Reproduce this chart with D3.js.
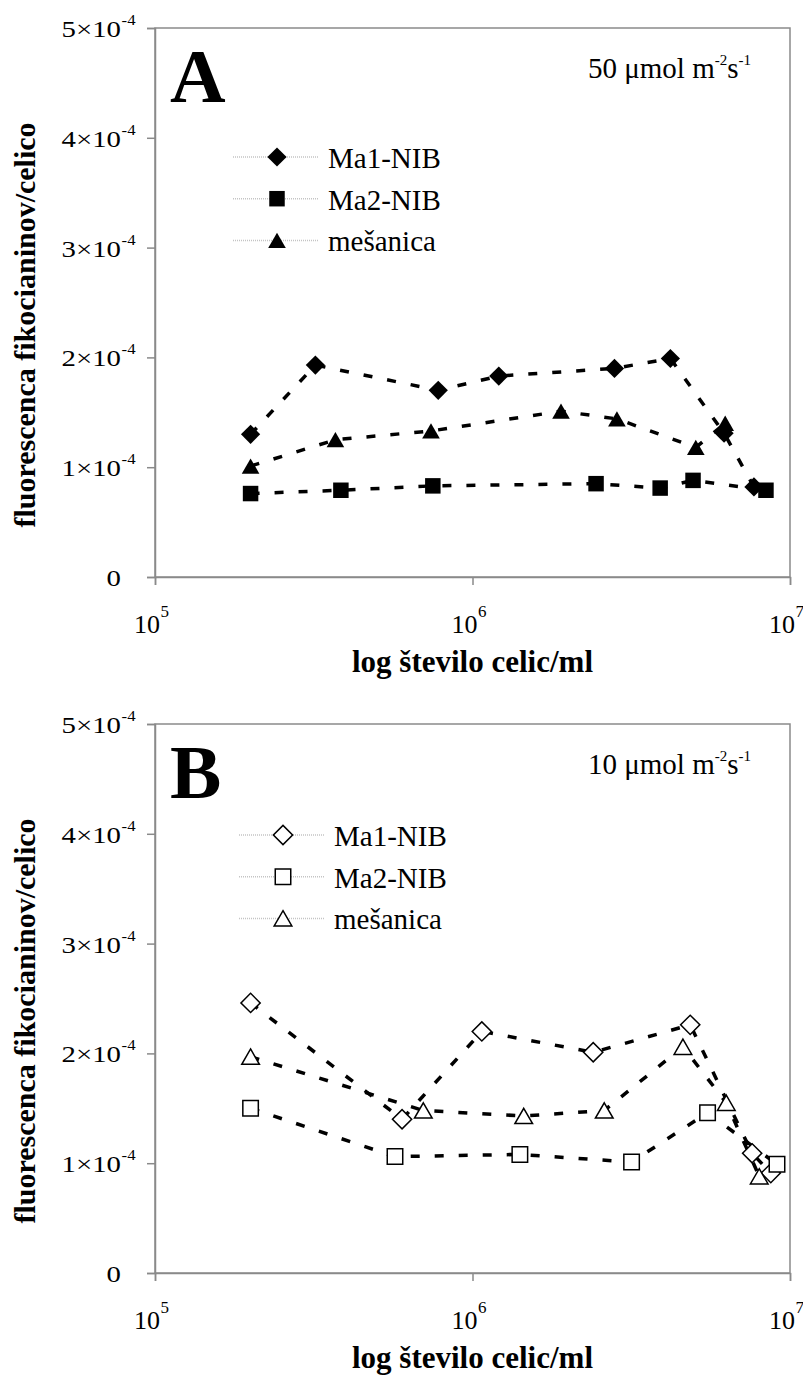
<!DOCTYPE html>
<html>
<head>
<meta charset="utf-8">
<script src="https://cdn.jsdelivr.net/npm/d3@7"></script>
<style>
  body { margin: 0; background: #fff; }
  svg { display: block; }
  text { font-family: "Liberation Serif", "Times New Roman", serif; fill: #000; }
</style>
</head>
<body>
<svg id="chart" width="803" height="1378"></svg>
<script>
const seriesNames = ['Ma1-NIB', 'Ma2-NIB', 'mešanica'];
const panelLetters = ['A', 'B'];
const lightLevels = ['50', '10'];

const xTicks = [1e5, 1e6, 1e7];
const xTickExp = ['5', '6', '7'];
const yTicks = [0, 1e-4, 2e-4, 3e-4, 4e-4, 5e-4];
const yTickMant = ['0', '1', '2', '3', '4', '5'];

// A: 50 umol m-2 s-1 (filled markers)
const ma1A_x = [2.0e5, 3.2e5, 7.8e5, 1.21e6, 2.8e6, 4.2e6, 6.2e6, 7.7e6];
const ma1A_y = [1.30e-4, 1.93e-4, 1.70e-4, 1.83e-4, 1.90e-4, 1.99e-4, 1.31e-4, 0.82e-4];
const ma2A_x = [2.0e5, 3.85e5, 7.5e5, 2.45e6, 3.9e6, 4.95e6, 8.4e6];
const ma2A_y = [0.76e-4, 0.79e-4, 0.83e-4, 0.85e-4, 0.81e-4, 0.88e-4, 0.79e-4];
const mesA_x = [2.0e5, 3.7e5, 7.4e5, 1.9e6, 2.85e6, 5.05e6, 6.25e6];
const mesA_y = [1.01e-4, 1.25e-4, 1.33e-4, 1.51e-4, 1.44e-4, 1.18e-4, 1.40e-4];

// B: 10 umol m-2 s-1 (open markers)
const ma1B_x = [2.0e5, 6.0e5, 1.07e6, 2.4e6, 4.85e6, 7.6e6, 8.7e6];
const ma1B_y = [2.46e-4, 1.40e-4, 2.20e-4, 2.01e-4, 2.26e-4, 1.09e-4, 0.91e-4];
const ma2B_x = [2.0e5, 5.7e5, 1.41e6, 3.17e6, 5.5e6, 9.1e6];
const ma2B_y = [1.50e-4, 1.06e-4, 1.08e-4, 1.01e-4, 1.46e-4, 0.99e-4];
const mesB_x = [2.0e5, 7.0e5, 1.45e6, 2.6e6, 4.6e6, 6.3e6, 8.0e6];
const mesB_y = [1.97e-4, 1.48e-4, 1.43e-4, 1.48e-4, 2.06e-4, 1.55e-4, 0.88e-4];

const panelData = [
  [[ma1A_x, ma1A_y], [ma2A_x, ma2A_y], [mesA_x, mesA_y]],
  [[ma1B_x, ma1B_y], [ma2B_x, ma2B_y], [mesB_x, mesB_y]]
];

const left = 155, right = 790,
      plotH = 549,
      panelTops = [28, 724],
      gray = '#8a8a8a';

const svg = d3.select('#chart');

const x = d3.scaleLog().domain([1e5, 1e7]).range([left, right]);

// marker shapes: diamond, square, triangle
const shapes = [
  {path: d3.symbol().type(d3.symbolSquare).size(185)(), rot: 45, dy: 0},
  {path: d3.symbol().type(d3.symbolSquare).size(240)(), rot: 0, dy: 0},
  {path: d3.symbol().type(d3.symbolTriangle).size(135)(), rot: 0, dy: 2.5}
];

panelTops.forEach((top, p) => {
  const bottom = top + plotH;
  const y = d3.scaleLinear().domain([0, 5e-4]).range([bottom, top]);
  const filled = p === 0;
  const g = svg.append('g');

  // frame
  g.append('rect')
   .attr('x', left).attr('y', top)
   .attr('width', right - left).attr('height', plotH)
   .attr('fill', 'none')
   .attr('stroke', gray)
   .attr('stroke-width', 1.5);

  const yAxis = g.append('g')
    .attr('transform', `translate(${left},0)`)
    .call(d3.axisLeft(y).tickValues(yTicks).tickSize(8).tickFormat(''));
  yAxis.selectAll('path, line').attr('stroke', gray).attr('stroke-width', 1.5);

  const xAxis = g.append('g')
    .attr('transform', `translate(0,${bottom})`)
    .call(d3.axisBottom(x).tickValues(xTicks).tickSize(8).tickFormat(''));
  xAxis.selectAll('path, line').attr('stroke', gray).attr('stroke-width', 1.5);

  // y tick labels, a little stretched like the original
  yTicks.forEach((v, i) => {
    const lab = g.append('g')
      .attr('transform', `translate(121,${y(v)}) scale(1.2,1)`);
    if (v === 0) {
      lab.append('text').attr('y', 9).attr('text-anchor', 'end')
         .attr('font-size', 24).text('0');
    } else {
      lab.append('text').attr('y', 9).attr('text-anchor', 'end')
         .attr('font-size', 24).text(yTickMant[i] + '×10');
      lab.append('text').attr('y', -3).attr('x', 0.5)
         .attr('font-size', 14).text('-4');
    }
  });

  // x tick labels
  xTicks.forEach((v, i) => {
    g.append('text')
     .attr('x', x(v) + 5).attr('y', bottom + 56)
     .attr('text-anchor', 'end')
     .attr('font-size', 26)
     .text('10');
    g.append('text')
     .attr('x', x(v) + 5.5).attr('y', bottom + 40)
     .attr('font-size', 17)
     .text(xTickExp[i]);
  });

  // axis titles
  g.append('text')
   .attr('x', (left + right) / 2).attr('y', bottom + 95)
   .attr('text-anchor', 'middle')
   .attr('font-size', 31).attr('font-weight', 'bold')
   .text('log število celic/ml');

  g.append('text')
   .attr('transform', `translate(35,${top + 297}) rotate(-90)`)
   .attr('text-anchor', 'middle')
   .attr('font-size', 30).attr('font-weight', 'bold')
   .text('fluorescenca fikocianinov/celico');

  // panel letter
  g.append('text')
   .attr('x', 170).attr('y', top + 74)
   .attr('font-size', 77).attr('font-weight', 'bold')
   .text(panelLetters[p]);

  // light intensity
  const light = g.append('text')
   .attr('x', 588).attr('y', top + 50)
   .attr('font-size', 29);
  light.append('tspan').text(lightLevels[p] + ' μmol m');
  light.append('tspan').attr('font-size', 15).attr('dy', -13).text('-2');
  light.append('tspan').attr('dy', 13).text('s');
  light.append('tspan').attr('font-size', 15).attr('dy', -13).text('-1');

  // series lines
  const line = d3.line().x(d => x(d[0])).y(d => y(d[1]));
  panelData[p].forEach(s => {
    const pts = s[0].map((xv, k) => [xv, s[1][k]]);
    g.append('path')
     .datum(pts)
     .attr('d', line)
     .attr('fill', 'none')
     .attr('stroke', '#000')
     .attr('stroke-width', 3.5)
     .attr('stroke-dasharray', '9,15');
  });

  // markers
  panelData[p].forEach((s, si) => {
    const pts = s[0].map((xv, k) => [xv, s[1][k]]);
    const sh = shapes[si];
    g.selectAll(null)
     .data(pts)
     .enter()
     .append('path')
     .attr('d', sh.path)
     .attr('transform', d => `translate(${x(d[0])},${y(d[1]) + sh.dy}) rotate(${sh.rot})`)
     .attr('fill', filled ? '#000' : '#fff')
     .attr('stroke', '#000')
     .attr('stroke-width', filled ? 0 : 1.5);
  });

  // legend
  const legX = filled ? 277 : 283,
        legY = top + (filled ? 129 : 111),
        legStep = 41.7;
  seriesNames.forEach((name, si) => {
    const ly = legY + si * legStep;
    const sh = shapes[si];
    g.append('line')
     .attr('x1', legX - 44).attr('x2', legX + 42)
     .attr('y1', ly).attr('y2', ly)
     .attr('stroke', '#c4c4c4')
     .attr('stroke-width', 1.5)
     .attr('stroke-dasharray', '1,1');
    g.append('path')
     .attr('d', sh.path)
     .attr('transform', `translate(${legX},${ly + sh.dy}) rotate(${sh.rot})`)
     .attr('fill', filled ? '#000' : '#fff')
     .attr('stroke', '#000')
     .attr('stroke-width', filled ? 0 : 1.5);
    g.append('text')
     .attr('x', legX + 51).attr('y', ly + 11)
     .attr('font-size', 29)
     .text(name);
  });
});
</script>
</body>
</html>
